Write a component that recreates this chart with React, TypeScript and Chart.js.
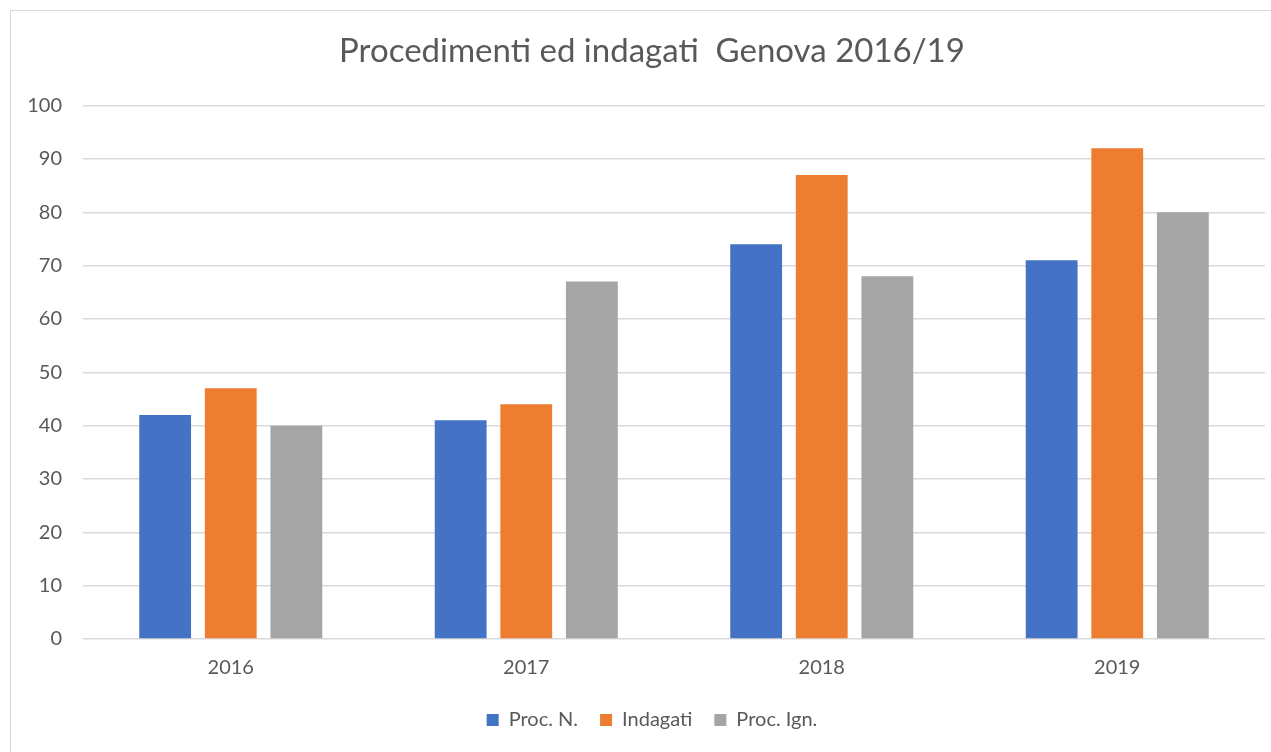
import React, { useEffect, useRef } from "react";
import { Chart, registerables } from "chart.js";

Chart.register(...registerables);

const categories = ["2016", "2017", "2018", "2019"];
const procN = [42, 41, 74, 71];
const indagati = [47, 44, 87, 92];
const procIgn = [40, 67, 68, 80];
const seriesNames = ["Proc. N.", "Indagati", "Proc. Ign."];
const yTicks = [0, 10, 20, 30, 40, 50, 60, 70, 80, 90, 100];
const titleText = "Procedimenti ed indagati  Genova 2016/19";

const FONT = "Lato, 'Open Sans', sans-serif";
const TEXT = "#595959";

export default function App() {
  const ref = useRef<HTMLCanvasElement | null>(null);
  useEffect(() => {
    if (!ref.current) return;
    const chart = new Chart(ref.current, {
      type: "bar",
      data: {
        labels: categories,
        datasets: [
          { label: seriesNames[0], data: procN, backgroundColor: "#4472C4" },
          { label: seriesNames[1], data: indagati, backgroundColor: "#ED7D31" },
          { label: seriesNames[2], data: procIgn, backgroundColor: "#A5A5A5" },
        ],
      },
      options: {
        animation: false,
        responsive: false,
        maintainAspectRatio: false,
        layout: { padding: { left: 23, right: -10, top: 0, bottom: 12 } },
        datasets: { bar: { categoryPercentage: 0.666, barPercentage: 0.79 } },
        plugins: {
          tooltip: { enabled: false },
          title: {
            display: true,
            text: titleText,
            color: TEXT,
            font: { family: FONT, size: 33, weight: "normal" },
            padding: { top: 32, bottom: 34 },
          },
          legend: {
            position: "bottom",
            labels: {
              color: TEXT,
              font: { family: FONT, size: 20 },
              boxWidth: 12,
              boxHeight: 12,
              padding: 22,
            },
          },
        },
        scales: {
          x: {
            grid: { display: false, drawTicks: false },
            border: { display: false },
            ticks: { color: TEXT, font: { family: FONT, size: 20 }, padding: 17 },
            afterFit: (s: any) => { s.height = 49; },
          },
          y: {
            min: 0,
            max: 100,
            afterBuildTicks: (s: any) => { s.ticks = yTicks.map((v) => ({ value: v })); },
            grid: { color: "#D9D9D9", lineWidth: 1.5, drawTicks: false },
            border: { display: false },
            ticks: { color: TEXT, font: { family: FONT, size: 20 }, padding: 21 },
            afterFit: (s: any) => { s.width = 60; },
          },
          yPad: {
            position: "right",
            min: 0,
            max: 100,
            grid: { display: false, drawTicks: false },
            border: { display: false },
            ticks: { display: false },
            afterFit: (s: any) => { s.width = 16; },
          },
        },
      },
    });
    return () => chart.destroy();
  }, []);
  return (
    <div style={{ position: "fixed", left: 0, top: 0, width: 1271, height: 752, overflow: "hidden", background: "#fff" }}>
      <div style={{ position: "absolute", left: 10, top: 10, width: 1400, height: 900, border: "1px solid #D9D9D9" }} />
      <canvas ref={ref} width={1271} height={752} style={{ position: "absolute", left: 0, top: 0, width: 1271, height: 752 }} />
    </div>
  );
}
